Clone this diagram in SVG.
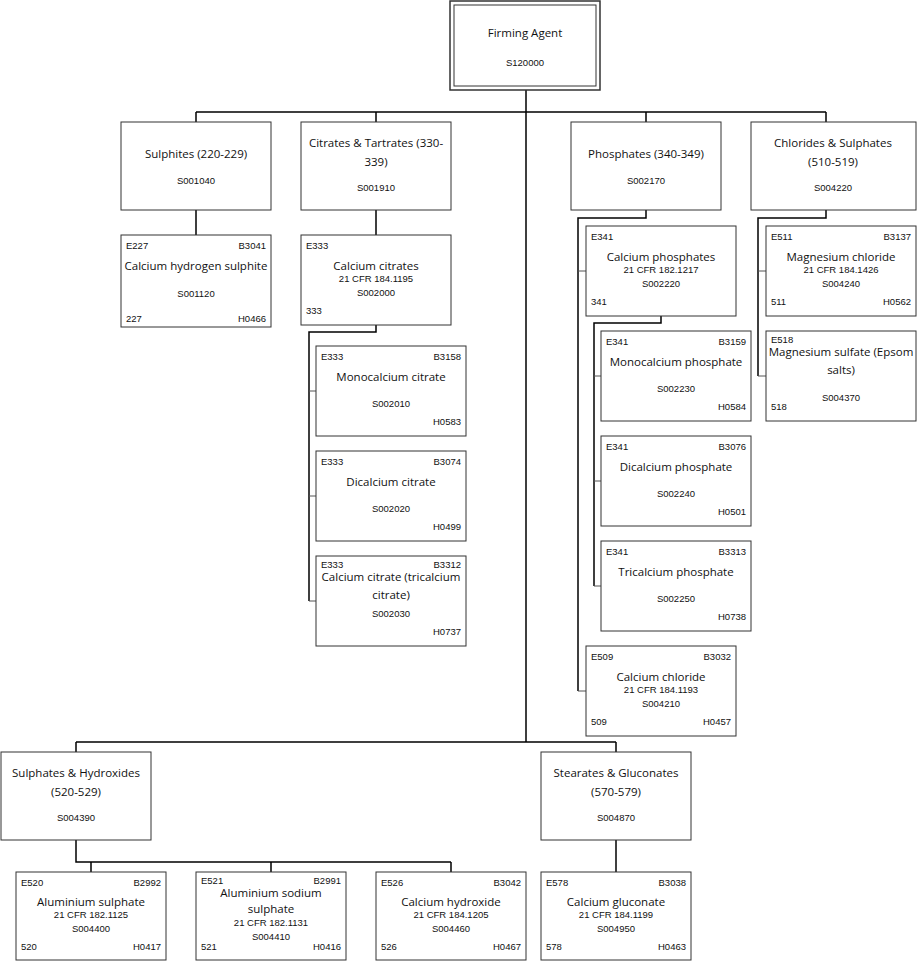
<svg xmlns="http://www.w3.org/2000/svg" width="918" height="962" viewBox="0 0 918 962">
<style>
rect{fill:#fff;stroke:#333;stroke-width:1}
.t{font-family:"Open Sans","Liberation Sans",sans-serif;font-size:11.5px;fill:#111;text-anchor:middle}
.s{font-family:"Liberation Sans",Arial,sans-serif;font-size:9.5px;fill:#111}
.m{text-anchor:middle}.r{text-anchor:end}
#conn path{fill:none;stroke:#000;stroke-width:1.5}
#conn .g{stroke:#555;stroke-width:1}
</style>
<rect x="0" y="0" width="918" height="962" style="fill:#fff;stroke:none"/>
<g id="conn">
<path d="M526,90V742M196,112H826M196,112V122M376,112V122M646,112V122M826,112V122"/>
<path d="M196,210V235M376,210V235"/>
<path d="M376,325V332H309V601"/>
<path class="g" d="M309,391H316M309,496H316M309,601H316"/>
<path d="M646,210V218H578V691"/>
<path class="g" d="M578,271H586M578,691H586"/>
<path d="M661,316V323H594V586"/>
<path class="g" d="M594,376H601M594,481H601M594,586H601"/>
<path d="M826,210V218H758V376"/>
<path class="g" d="M758,271H766M758,376H766"/>
<path d="M76,742H616M76,742V752M616,742V752"/>
<path d="M76,840V862H451M91,862V872M271,862V872M451,862V872"/>
<path d="M616,840V872"/>
</g>
<g id="root"><rect x="450" y="1" width="150" height="89" style="stroke-width:1.5"/><rect x="454" y="5" width="142" height="81"/><text class="t" x="525" y="37">Firming Agent</text><text class="s m" x="525" y="66">S120000</text></g>
<g id="sulphites"><rect x="121" y="122" width="150" height="88"/><text class="t" x="196" y="158">Sulphites (220-229)</text><text class="s m" x="196" y="184">S001040</text></g>
<g id="citrates"><rect x="301" y="122" width="150" height="88"/><text class="t" x="376" y="147">Citrates &amp; Tartrates (330-</text><text class="t" x="376" y="166">339)</text><text class="s m" x="376" y="191">S001910</text></g>
<g id="phosphates"><rect x="571" y="122" width="150" height="88"/><text class="t" x="646" y="158">Phosphates (340-349)</text><text class="s m" x="646" y="184">S002170</text></g>
<g id="chlorides"><rect x="751" y="122" width="165" height="88"/><text class="t" x="833" y="147">Chlorides &amp; Sulphates</text><text class="t" x="833" y="166">(510-519)</text><text class="s m" x="833" y="191">S004220</text></g>
<g id="sulphhyd"><rect x="1" y="752" width="150" height="88"/><text class="t" x="76" y="777">Sulphates &amp; Hydroxides</text><text class="t" x="76" y="796">(520-529)</text><text class="s m" x="76" y="821">S004390</text></g>
<g id="stearates"><rect x="541" y="752" width="150" height="88"/><text class="t" x="616" y="777">Stearates &amp; Gluconates</text><text class="t" x="616" y="796">(570-579)</text><text class="s m" x="616" y="821">S004870</text></g>

<g id="calhydsul"><rect x="121" y="235" width="150" height="92"/><text class="s" x="126" y="249">E227</text><text class="s r" x="266" y="249">B3041</text><text class="t" x="196" y="270">Calcium hydrogen sulphite</text><text class="s m" x="196" y="297">S001120</text><text class="s" x="126" y="322">227</text><text class="s r" x="266" y="322">H0466</text></g>
<g id="calcit"><rect x="301" y="235" width="150" height="90"/><text class="s" x="306" y="249">E333</text><text class="t" x="376" y="270">Calcium citrates</text><text class="s m" x="376" y="282">21 CFR 184.1195</text><text class="s m" x="376" y="296">S002000</text><text class="s" x="306" y="314">333</text></g>
<g id="monocit"><rect x="316" y="346" width="150" height="90"/><text class="s" x="321" y="360">E333</text><text class="s r" x="461" y="360">B3158</text><text class="t" x="391" y="381">Monocalcium citrate</text><text class="s m" x="391" y="407">S002010</text><text class="s r" x="461" y="425">H0583</text></g>
<g id="dicit"><rect x="316" y="451" width="150" height="90"/><text class="s" x="321" y="465">E333</text><text class="s r" x="461" y="465">B3074</text><text class="t" x="391" y="486">Dicalcium citrate</text><text class="s m" x="391" y="512">S002020</text><text class="s r" x="461" y="530">H0499</text></g>
<g id="tricit"><rect x="316" y="556" width="150" height="90"/><text class="s" x="321" y="568">E333</text><text class="s r" x="461" y="568">B3312</text><text class="t" x="391" y="581">Calcium citrate (tricalcium</text><text class="t" x="391" y="599">citrate)</text><text class="s m" x="391" y="617">S002030</text><text class="s r" x="461" y="635">H0737</text></g>

<g id="calphos"><rect x="586" y="226" width="150" height="90"/><text class="s" x="591" y="240">E341</text><text class="t" x="661" y="261">Calcium phosphates</text><text class="s m" x="661" y="273">21 CFR 182.1217</text><text class="s m" x="661" y="287">S002220</text><text class="s" x="591" y="305">341</text></g>
<g id="monophos"><rect x="601" y="331" width="150" height="90"/><text class="s" x="606" y="345">E341</text><text class="s r" x="746" y="345">B3159</text><text class="t" x="676" y="366">Monocalcium phosphate</text><text class="s m" x="676" y="392">S002230</text><text class="s r" x="746" y="410">H0584</text></g>
<g id="diphos"><rect x="601" y="436" width="150" height="90"/><text class="s" x="606" y="450">E341</text><text class="s r" x="746" y="450">B3076</text><text class="t" x="676" y="471">Dicalcium phosphate</text><text class="s m" x="676" y="497">S002240</text><text class="s r" x="746" y="515">H0501</text></g>
<g id="triphos"><rect x="601" y="541" width="150" height="90"/><text class="s" x="606" y="555">E341</text><text class="s r" x="746" y="555">B3313</text><text class="t" x="676" y="576">Tricalcium phosphate</text><text class="s m" x="676" y="602">S002250</text><text class="s r" x="746" y="620">H0738</text></g>
<g id="calchl"><rect x="586" y="646" width="150" height="90"/><text class="s" x="591" y="660">E509</text><text class="s r" x="731" y="660">B3032</text><text class="t" x="661" y="681">Calcium chloride</text><text class="s m" x="661" y="693">21 CFR 184.1193</text><text class="s m" x="661" y="707">S004210</text><text class="s" x="591" y="725">509</text><text class="s r" x="731" y="725">H0457</text></g>

<g id="magchl"><rect x="766" y="226" width="150" height="90"/><text class="s" x="771" y="240">E511</text><text class="s r" x="911" y="240">B3137</text><text class="t" x="841" y="261">Magnesium chloride</text><text class="s m" x="841" y="273">21 CFR 184.1426</text><text class="s m" x="841" y="287">S004240</text><text class="s" x="771" y="305">511</text><text class="s r" x="911" y="305">H0562</text></g>
<g id="magsul"><rect x="766" y="331" width="150" height="90"/><text class="s" x="771" y="343">E518</text><text class="t" x="841" y="356">Magnesium sulfate (Epsom</text><text class="t" x="841" y="374">salts)</text><text class="s m" x="841" y="401">S004370</text><text class="s" x="771" y="410">518</text></g>

<g id="alsul"><rect x="16" y="872" width="150" height="88"/><text class="s" x="21" y="886">E520</text><text class="s r" x="161" y="886">B2992</text><text class="t" x="91" y="906">Aluminium sulphate</text><text class="s m" x="91" y="918">21 CFR 182.1125</text><text class="s m" x="91" y="932">S004400</text><text class="s" x="21" y="950">520</text><text class="s r" x="161" y="950">H0417</text></g>
<g id="alnasul"><rect x="196" y="872" width="150" height="88"/><text class="s" x="201" y="884">E521</text><text class="s r" x="341" y="884">B2991</text><text class="t" x="271" y="897">Aluminium sodium</text><text class="t" x="271" y="913">sulphate</text><text class="s m" x="271" y="926">21 CFR 182.1131</text><text class="s m" x="271" y="940">S004410</text><text class="s" x="201" y="950">521</text><text class="s r" x="341" y="950">H0416</text></g>
<g id="calhyd"><rect x="376" y="872" width="150" height="88"/><text class="s" x="381" y="886">E526</text><text class="s r" x="521" y="886">B3042</text><text class="t" x="451" y="906">Calcium hydroxide</text><text class="s m" x="451" y="918">21 CFR 184.1205</text><text class="s m" x="451" y="932">S004460</text><text class="s" x="381" y="950">526</text><text class="s r" x="521" y="950">H0467</text></g>
<g id="calglu"><rect x="541" y="872" width="150" height="88"/><text class="s" x="546" y="886">E578</text><text class="s r" x="686" y="886">B3038</text><text class="t" x="616" y="906">Calcium gluconate</text><text class="s m" x="616" y="918">21 CFR 184.1199</text><text class="s m" x="616" y="932">S004950</text><text class="s" x="546" y="950">578</text><text class="s r" x="686" y="950">H0463</text></g>
</svg>
